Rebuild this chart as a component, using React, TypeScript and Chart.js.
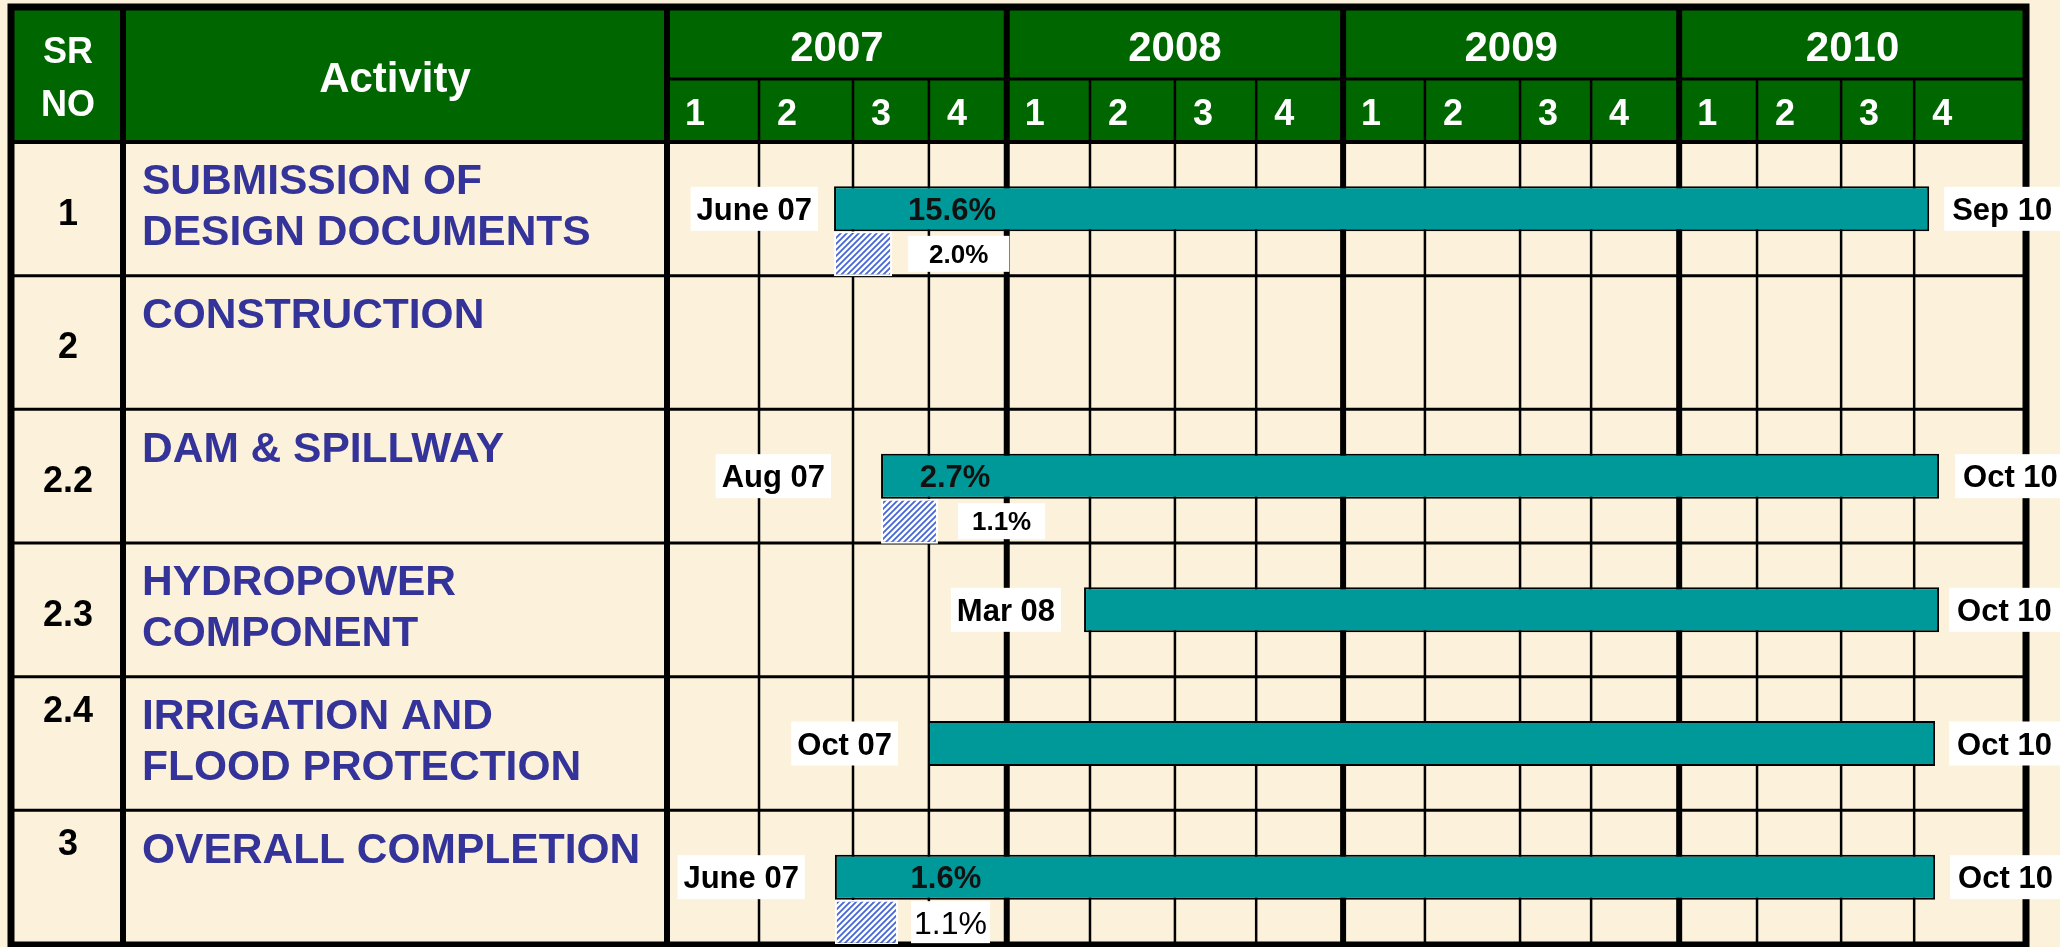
import React, { useEffect, useRef } from 'react';
import { Chart, registerables } from 'chart.js';

Chart.register(...registerables);

// ---------- data ----------
const SR_NO = ['1', '2', '2.2', '2.3', '2.4', '3'];
const ACTIVITIES = [
  ['SUBMISSION OF', 'DESIGN DOCUMENTS'],
  ['CONSTRUCTION'],
  ['DAM & SPILLWAY'],
  ['HYDROPOWER', 'COMPONENT'],
  ['IRRIGATION AND', 'FLOOD PROTECTION'],
  ['OVERALL COMPLETION'],
];
const YEARS = ['2007', '2008', '2009', '2010'];
const QUARTERS = ['1', '2', '3', '4'];
// quarter boundaries in months from Jan 2007 (as drawn in the table)
const QUARTER_EDGES = [0, 3.25, 6.57, 9.25, 12, 14.94, 17.94, 20.81, 23.88, 26.77, 30.13, 32.64, 35.75, 38.5, 41.47, 44.05, 48];

// planned schedule (months from Jan 2007)
const PLANNED_START = [5.9, null, 7.56, 14.73, 9.22, 5.93];
const PLANNED_END = [44.58, null, 44.93, 44.93, 44.79, 44.79];
const START_LABELS = ['June 07', '', 'Aug 07', 'Mar 08', 'Oct 07', 'June 07'];
const END_LABELS = ['Sep 10', '', 'Oct 10', 'Oct 10', 'Oct 10', 'Oct 10'];
const PLANNED_PCT = ['15.6%', '', '2.7%', '', '', '1.6%'];

// actual progress
const ACTUAL_START = [5.9, null, 7.56, null, null, 5.93];
const ACTUAL_END = [7.95, null, 9.57, null, null, 8.16];
const ACTUAL_PCT = ['2.0%', '', '1.1%', '', '', '1.1%'];

// ---------- styles ----------
const FONT = '"Liberation Sans", Arial, Helvetica, sans-serif';
const BG = '#FCF2DB';
const GREEN = '#006600';
const TEAL = '#009999';
const BLUE_TEXT = '#333399';
const START_GAP = [16, 0, 50, 23, 30, 30];
const END_GAP = [15, 0, 16, 10, 14, 15];
const PCT_DX = [118, 0, 74, 0, 0, 111];
const PROG_GAP = [16, 0, 20, 0, 0, 13];
const PROG_PAD = [21, 0, 14, 0, 0, 3];
const PROG_SIZE = [26, 0, 26, 0, 0, 32];
const PROG_WEIGHT = ['bold', '', 'bold', '', '', 'normal'];
const SR_VALIGN = ['middle', 'middle', 'middle', 'middle', 'top', 'top'];

const TBL_LEFT = 11;
const TBL_TOP = 7;
const SR_DIV = 123;
const YEAR_ROW_BOTTOM = 79;

function txt(ctx, s, x, capCy, size, weight, color, align) {
  ctx.font = `${weight} ${size}px ${FONT}`;
  ctx.fillStyle = color;
  ctx.textAlign = align;
  ctx.textBaseline = 'alphabetic';
  ctx.fillText(s, x, capCy + size * 0.358);
}

const tablePlugin = {
  id: 'ganttTable',
  beforeDraw(chart) {
    const { ctx, width, height } = chart;
    const xs = chart.scales.x;
    const ys = chart.scales.y;
    const L = TBL_LEFT;
    const R = xs.right;
    const T = TBL_TOP;
    const HB = ys.top;
    const B = ys.bottom;
    const ACT = xs.left;
    const n = SR_NO.length;
    const rowEdge = (i) => ys.getPixelForValue(i - 0.5);
    const px = (v) => xs.getPixelForValue(v);

    ctx.save();
    ctx.fillStyle = BG;
    ctx.fillRect(0, 0, width, height);

    // header
    ctx.fillStyle = GREEN;
    ctx.fillRect(L, T, R - L, HB - T);

    ctx.strokeStyle = '#000';
    ctx.lineCap = 'butt';
    const line = (x1, y1, x2, y2, w) => {
      ctx.lineWidth = w;
      ctx.beginPath();
      ctx.moveTo(x1, y1);
      ctx.lineTo(x2, y2);
      ctx.stroke();
    };

    // row lines
    for (let i = 1; i < n; i++) {
      const y = rowEdge(i);
      line(L, y, R, y, 3);
    }
    // header lines
    line(ACT, YEAR_ROW_BOTTOM, R, YEAR_ROW_BOTTOM, 3);
    line(L, HB, R, HB, 4);

    // quarter lines
    for (let q = 1; q < QUARTER_EDGES.length - 1; q++) {
      const x = px(QUARTER_EDGES[q]);
      if (q % 4 === 0) line(x, T, x, B, 6);
      else line(x, YEAR_ROW_BOTTOM, x, B, 2.5);
    }
    // column dividers
    line(SR_DIV, T, SR_DIV, B, 6);
    line(ACT, T, ACT, B, 6);
    // outer border
    ctx.lineWidth = 7;
    ctx.strokeRect(L, T, R - L, B + 1 - T);

    // header text
    for (let k = 0; k < YEARS.length; k++) {
      const cx = (px(QUARTER_EDGES[k * 4]) + px(QUARTER_EDGES[k * 4 + 4])) / 2;
      txt(ctx, YEARS[k], cx, 46, 42, 'bold', '#fff', 'center');
      for (let q = 0; q < 4; q++) {
        const left = px(QUARTER_EDGES[k * 4 + q]);
        txt(ctx, QUARTERS[q], left + 18, 112, 36, 'bold', '#fff', 'left');
      }
    }
    const srCx = (L + SR_DIV) / 2 + 1;
    txt(ctx, 'SR', srCx, 50, 36, 'bold', '#fff', 'center');
    txt(ctx, 'NO', srCx, 103, 36, 'bold', '#fff', 'center');
    txt(ctx, 'Activity', (SR_DIV + ACT) / 2, 77, 42, 'bold', '#fff', 'center');

    // body text
    for (let i = 0; i < n; i++) {
      const top = rowEdge(i);
      const bot = rowEdge(i + 1);
      const cy = SR_VALIGN[i] === 'top' ? top + 32 : (top + bot) / 2 + 3;
      txt(ctx, SR_NO[i], srCx, cy, 36, 'bold', '#000', 'center');
      ACTIVITIES[i].forEach((s, j) => {
        txt(ctx, s, 142, top + 37 + j * 51, 42.5, 'bold', BLUE_TEXT, 'left');
      });
    }
    ctx.restore();
  },
  afterDatasetsDraw(chart) {
    const { ctx } = chart;
    const planned = chart.getDatasetMeta(1).data;
    const actual = chart.getDatasetMeta(2).data;
    ctx.save();
    const box = (x, cy, w, h) => {
      ctx.fillStyle = '#fff';
      ctx.fillRect(x, cy - h / 2, w, h);
    };
    for (let i = 0; i < SR_NO.length; i++) {
      if (PLANNED_START[i] == null) continue;
      const el = planned[i];
      const p = el.getProps(['x', 'y', 'base'], true);
      const xs = Math.min(p.x, p.base);
      const xe = Math.max(p.x, p.base);
      const cy = p.y;

      // start label
      ctx.font = `bold 31px ${FONT}`;
      const sw = ctx.measureText(START_LABELS[i]).width + 12;
      const sRight = xs - START_GAP[i];
      box(sRight - sw, cy, sw, 44);
      txt(ctx, START_LABELS[i], sRight - 6, cy, 31, 'bold', '#000', 'right');

      // end label
      const ew = ctx.measureText(END_LABELS[i]).width + 16;
      const eLeft = xe + END_GAP[i];
      box(eLeft, cy, ew, 44);
      txt(ctx, END_LABELS[i], eLeft + 8, cy, 31, 'bold', '#000', 'left');

      // planned percent
      if (PLANNED_PCT[i]) {
        txt(ctx, PLANNED_PCT[i], xs + PCT_DX[i], cy, 31, 'bold', '#111', 'center');
      }

      // actual progress label
      if (ACTUAL_START[i] != null && ACTUAL_PCT[i]) {
        const a = actual[i].getProps(['x', 'y', 'base'], true);
        const ae = Math.max(a.x, a.base);
        const size = PROG_SIZE[i];
        ctx.font = `${PROG_WEIGHT[i]} ${size}px ${FONT}`;
        const w = ctx.measureText(ACTUAL_PCT[i]).width + PROG_PAD[i] * 2;
        const left = ae + PROG_GAP[i];
        box(left, a.y, w, size + 10);
        txt(ctx, ACTUAL_PCT[i], left + w / 2, a.y, size, PROG_WEIGHT[i], '#000', 'center');
      }
    }
    ctx.restore();
  },
};

export default function App() {
  const ref = useRef(null);
  useEffect(() => {
    const canvas = ref.current;
    const ctx = canvas.getContext('2d');

    const pc = document.createElement('canvas');
    pc.width = 6;
    pc.height = 6;
    const p = pc.getContext('2d');
    p.fillStyle = '#ffffff';
    p.fillRect(0, 0, 6, 6);
    p.strokeStyle = '#4565d8';
    p.lineWidth = 1.8;
    p.beginPath();
    p.moveTo(0, 6); p.lineTo(6, 0);
    p.moveTo(-3, 3); p.lineTo(3, -3);
    p.moveTo(3, 9); p.lineTo(9, 3);
    p.stroke();
    const hatch = ctx.createPattern(pc, 'repeat');

    const chart = new Chart(ctx, {
      type: 'bar',
      data: {
        labels: SR_NO,
        datasets: [
          {
            label: 'spacer',
            data: SR_NO.map(() => null),
          },
          {
            label: 'Planned',
            data: PLANNED_START.map((s, i) => (s == null ? null : [s, PLANNED_END[i]])),
            backgroundColor: TEAL,
            borderColor: '#000',
            borderWidth: 2,
            borderSkipped: false,
          },
          {
            label: 'Actual',
            data: ACTUAL_START.map((s, i) => (s == null ? null : [s, ACTUAL_END[i]])),
            backgroundColor: hatch,
            borderColor: '#ffffff',
            borderWidth: 2,
            borderSkipped: false,
          },
        ],
      },
      options: {
        indexAxis: 'y',
        animation: false,
        responsive: false,
        devicePixelRatio: 1,
        events: [],
        categoryPercentage: 1.01,
        barPercentage: 1,
        layout: { padding: { left: 667, right: 34, top: 142, bottom: 3 } },
        scales: {
          x: { type: 'linear', min: 0, max: 48, display: false },
          y: { type: 'category', display: false, offset: true },
        },
        plugins: {
          legend: { display: false },
          tooltip: { enabled: false },
        },
      },
      plugins: [tablePlugin],
    });
    return () => chart.destroy();
  }, []);

  return (
    <div style={{ position: 'fixed', left: 0, top: 0, width: 2060, height: 947 }}>
      <canvas ref={ref} width={2060} height={947} style={{ display: 'block' }} />
    </div>
  );
}
